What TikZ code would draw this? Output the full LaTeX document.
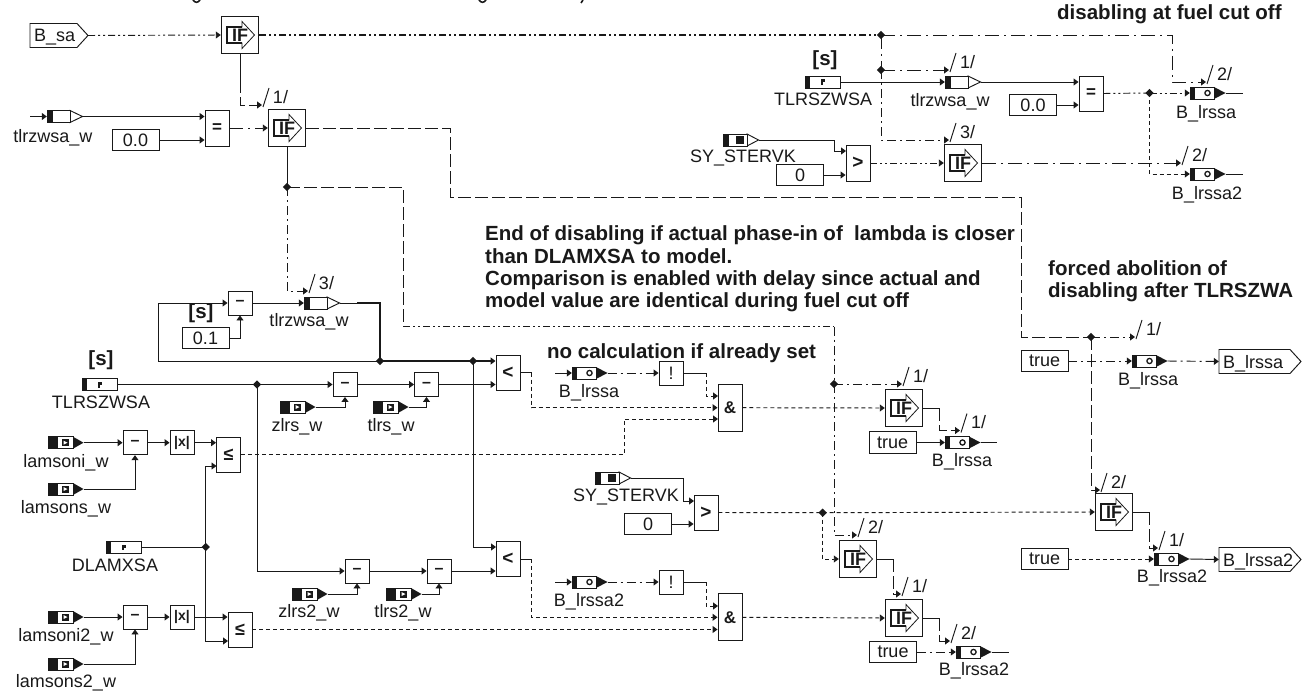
\documentclass[tikz,border=0pt]{standalone}
\usepackage{fontspec}
\setmainfont{Liberation Sans}
\usetikzlibrary{arrows.meta,shapes.geometric}
\definecolor{ink}{gray}{0.1}
\newcommand{\fsz}[1]{\fontsize{#1}{#1}\selectfont}
\tikzset{
  base/.style={line width=0.95pt,draw=ink,line cap=butt,line join=miter},
  fnbox/.style={base,fill=white,rectangle,inner sep=0pt,text=ink},
  valbox/.style={fnbox,minimum width=47pt,minimum height=21.5pt,font=\fsz{18}},
  anchorbox/.style={rectangle,inner sep=0pt,draw=none},
  lbl/.style={anchor=base,inner sep=0pt,text=ink,font=\fsz{18}},
  note/.style={anchor=base west,inner sep=0pt,text=ink,font=\bfseries\fsz{20.5}},
  unit/.style={anchor=center,inner sep=0pt,text=ink,font=\bfseries\fsz{20.5}},
  iftxt/.style={anchor=center,inner sep=0pt,text=ink,font=\bfseries\fsz{18}},
  junct/.style={diamond,fill=ink,draw=none,inner sep=0pt,minimum width=8.5pt,minimum height=8.5pt},
  wire/.style={base},
  arr/.style={-{Triangle[length=5pt,width=7pt]}},
  solidw/.style={wire},
  thickw/.style={wire,line width=1.8pt},
  dd/.style={wire,dash pattern=on 7pt off 3pt on 2pt off 3pt on 2pt off 3pt},
  da/.style={wire,dash pattern=on 14pt off 5pt on 2pt off 5pt},
  dl/.style={wire,dash pattern=on 13pt off 4pt},
  dm/.style={wire,dash pattern=on 4pt off 3pt},
  dx/.style={wire,dash pattern=on 9pt off 4pt on 2pt off 4pt},
}
\newcommand{\fnb}[6]{\node[fnbox,minimum width=#4pt,minimum height=#5pt] (#1) at (#2,#3) {#6};}
\newcommand{\minusb}[3]{\fnb{#1}{#2}{#3}{24}{24}{\bfseries\fsz{16}–}}
\newcommand{\absb}[3]{\fnb{#1}{#2}{#3}{24}{24}{\bfseries\fsz{14}|x|}}
\newcommand{\ifblk}[3]{%
  \node[fnbox,minimum width=37.5pt,minimum height=37.5pt] (#1) at (#2,#3) {};
  \begin{scope}[shift={(#2,#3)}]
    \draw[base,line width=0.8pt] (-13,-8)--(2,-8)--(2,-13.5)--(14.5,0)--(2,13.5)--(2,8)--(-13,8)--cycle;
    \draw[base,line width=1.4pt] (2,8)--(-13,8)--(-13,-8)--(2,-8);
  \end{scope}
  \node[iftxt] (#1-t) at (#2,#3) {IF};}
\newcommand{\varcore}[3]{\node[anchorbox,minimum width=35.5pt,minimum height=12.5pt] (#1) at (#2+17.75,#3) {};}
\newcommand{\varW}[3]{\varcore{#1}{#2}{#3}%
  \draw[base,fill=white] (#2+23,#3-6)--(#2+35.5,#3)--(#2+23,#3+6)--cycle;
  \draw[base,fill=white] (#2,#3-6) rectangle (#2+23,#3+6);
  \fill[ink] (#2,#3-6) rectangle (#2+5.5,#3+6);}
\newcommand{\varR}[3]{\varcore{#1}{#2}{#3}%
  \fill[ink] (#2+25,#3-6)--(#2+35.5,#3)--(#2+25,#3+6)--cycle;
  \draw[base,fill=white] (#2,#3-6) rectangle (#2+25,#3+6);
  \fill[ink] (#2,#3-6) rectangle (#2+10,#3+6);
  \fill[ink] (#2+14,#3-3.5) rectangle (#2+21,#3+3.5);
  \fill[white] (#2+15.5,#3-2)--(#2+19.5,#3)--(#2+15.5,#3+2)--cycle;}
\newcommand{\varL}[3]{\varcore{#1}{#2}{#3}%
  \fill[ink] (#2+24,#3-6)--(#2+35.5,#3)--(#2+24,#3+6)--cycle;
  \draw[base,fill=white] (#2,#3-6) rectangle (#2+24,#3+6);
  \fill[ink] (#2,#3-6) rectangle (#2+5,#3+6);
  \draw[ink,line width=1.3pt] (#2+17.5,#3) circle (2.6pt);}
\newcommand{\varP}[3]{\varcore{#1}{#2}{#3}%
  \draw[base,fill=white] (#2,#3-6) rectangle (#2+35.5,#3+6);
  \fill[ink] (#2,#3-6) rectangle (#2+5,#3+6);
  \fill[ink] (#2+16,#3-2.5) rectangle (#2+20,#3+0.5);
  \fill[ink] (#2+16,#3-2.5) rectangle (#2+17.6,#3+3);}
\newcommand{\varS}[3]{\varcore{#1}{#2}{#3}%
  \draw[base,fill=white] (#2+24,#3-6)--(#2+35.5,#3)--(#2+24,#3+6)--cycle;
  \draw[base,fill=white] (#2,#3-6) rectangle (#2+24,#3+6);
  \fill[ink] (#2,#3-6) rectangle (#2+6,#3+6);
  \fill[ink] (#2+13,#3-4) rectangle (#2+21,#3+4);}
\newcommand{\lab}[4]{\node[lbl] (#1) at (#2,#3+6.5) {#4};}
\newcommand{\tagat}[4]{%
  \coordinate (#1) at (#2,#3);
  \draw[base] (#2+1,#3+2)--(#2+7,#3-17);
  \node[anchor=center,inner sep=0pt,text=ink,font=\fsz{18}] (#1-t) at (#2+18.5,#3-8) {#4};}
\newcommand{\portblk}[6]{%
  \draw[base,fill=white] (#2,#4)--(#3-11,#4)--(#3,#4/2+#5/2)--(#3-11,#5)--(#2,#5)--cycle;
  \node[anchorbox,minimum width=#3pt-#2pt,minimum height=#5pt-#4pt] (#1) at (#2/2+#3/2,#4/2+#5/2) {};
  \node[anchor=base west,inner sep=0pt,text=ink,font=\fsz{18}] (#1-t) at (#2+4,#4/2+#5/2+6.5) {#6};}
\begin{document}
\begin{tikzpicture}[x=1pt,y=-1pt]
\useasboundingbox (0,0) rectangle (1307,693);
\begin{scope}
\clip (0,0) rectangle (1307,693);
\draw[ink,line width=1.6pt] (193,0) .. controls (195,3) and (198,3) .. (200,0);
\draw[ink,line width=1.6pt] (479,0) .. controls (481,3) and (484,3) .. (486,0);
\draw[ink,line width=1.6pt] (583,0) -- (581,3);
\end{scope}

\node[note] (n1) at (1057,20) {disabling at fuel cut off};
\node[note] (n2a) at (485,240.5) {End of disabling if actual phase-in of\ \ lambda is closer};
\node[note] (n2b) at (485,263) {than DLAMXSA to model.};
\node[note] (n2c) at (485,285.5) {Comparison is enabled with delay since actual and};
\node[note] (n2d) at (485,307.5) {model value are identical during fuel cut off};
\node[note] (n3) at (547,358) {no calculation if already set};
\node[note] (n4a) at (1048,275) {forced abolition of};
\node[note] (n4b) at (1048,297) {disabling after TLRSZWA};
\node[unit] (u1) at (825,60) {[s]};
\node[unit] (u2) at (201,313) {[s]};
\node[unit] (u3) at (101,360) {[s]};

\portblk{bsa}{30}{88}{23.5}{47.5}{B\_sa}
\portblk{ob1}{1219}{1301}{349.5}{373.5}{B\_lrssa}
\portblk{ob2}{1219}{1301}{547.5}{571.5}{B\_lrssa2}

\ifblk{if1}{240}{35}
\ifblk{if2}{287}{128}
\ifblk{if3}{963}{163}
\ifblk{if4}{904}{408}
\ifblk{if5}{858}{559}
\ifblk{if6}{904}{618}
\ifblk{if7}{1114}{512}

\fnb{eq1}{217}{128}{24}{36}{\bfseries\fsz{17}=}
\fnb{eq2}{1091}{93.5}{24}{35}{\bfseries\fsz{17}=}
\fnb{gt1}{858}{163}{24}{36}{\bfseries\fsz{19}>}
\fnb{gt2}{706}{512.5}{24}{35}{\bfseries\fsz{19}>}
\fnb{lt1}{508}{372.5}{24}{35}{\bfseries\fsz{19}<}
\fnb{lt2}{508}{559}{24}{35}{\bfseries\fsz{19}<}
\fnb{le1}{228.5}{454.5}{24}{35}{\bfseries\fsz{18}≤}
\fnb{le2}{240}{629.5}{24}{35}{\bfseries\fsz{18}≤}
\minusb{m1}{240}{303}
\minusb{m2}{345}{384.5}
\minusb{m3}{426.5}{384.5}
\minusb{m4}{357}{571}
\minusb{m5}{439}{571}
\minusb{m6}{135}{442.7}
\minusb{m7}{135}{617}
\absb{a1}{182}{442.7}
\absb{a2}{182}{617}
\fnb{nt1}{671}{373}{24}{24}{\fsz{18}!}
\fnb{nt2}{671}{582}{24}{24}{\fsz{18}!}
\fnb{and1}{730}{407.7}{24}{47}{\bfseries\fsz{17}\&}
\fnb{and2}{730}{617.3}{24}{47}{\bfseries\fsz{17}\&}

\node[valbox] (v00a) at (135.5,140) {0.0};
\node[valbox] (v00b) at (1033,105) {0.0};
\node[valbox] (v0a) at (800,175) {0};
\node[valbox] (v0b) at (648,524) {0};
\node[valbox] (v01) at (205.5,338) {0.1};
\node[valbox] (t1) at (892.7,442.5) {true};
\node[valbox] (t2) at (893,652) {true};
\node[valbox] (t3) at (1044.5,361) {true};
\node[valbox] (t4) at (1044.5,559) {true};

\varW{vtl1}{47}{116.5}   \lab{ltl1}{53}{135.5}{tlrzwsa\_w}
\varW{vtl2}{945}{82}     \lab{ltl2}{950}{100}{tlrzwsa\_w}
\varW{vtl3}{304}{303}    \lab{ltl3}{309}{320}{tlrzwsa\_w}
\varP{pt1}{805}{82}      \lab{lpt1}{823}{99}{TLRSZWSA}
\varP{pt2}{82}{384.5}    \lab{lpt2}{101}{401.5}{TLRSZWSA}
\varP{pd}{106}{547}      \lab{lpd}{115}{565}{DLAMXSA}
\varS{sy1}{723}{140}     \lab{lsy1}{743}{156}{SY\_STERVK}
\varS{sy2}{595}{478}     \lab{lsy2}{626}{495}{SY\_STERVK}
\varL{b1}{1190}{93}      \lab{lb1}{1206}{112}{B\_lrssa}
\varL{b2}{1190}{174}     \lab{lb2}{1207}{193}{B\_lrssa2}
\varL{b3}{572}{373}      \lab{lb3}{589}{390.5}{B\_lrssa}
\varL{b4}{572}{582}      \lab{lb4}{589}{600}{B\_lrssa2}
\varL{b5}{945}{442.5}    \lab{lb5}{962}{460}{B\_lrssa}
\varL{b6}{956}{652}      \lab{lb6}{974}{669}{B\_lrssa2}
\varL{b7}{1132}{361}     \lab{lb7}{1148}{379}{B\_lrssa}
\varL{b8}{1154}{559}     \lab{lb8}{1172}{576}{B\_lrssa2}
\varR{zl1}{280}{407}     \lab{lzl1}{297}{425}{zlrs\_w}
\varR{tl1}{373}{407}     \lab{ltf1}{391}{425}{tlrs\_w}
\varR{zl2}{292}{594}     \lab{lzl2}{309}{610.5}{zlrs2\_w}
\varR{tl2}{386}{594}     \lab{ltf2}{403}{610.5}{tlrs2\_w}
\varR{ls1}{48}{442.7}    \lab{lls1}{66}{460.5}{lamsoni\_w}
\varR{ls2}{48}{489}      \lab{lls2}{66}{507}{lamsons\_w}
\varR{ls3}{48}{617}      \lab{lls3}{66}{635}{lamsoni2\_w}
\varR{ls4}{48}{664}      \lab{lls4}{66}{681}{lamsons2\_w}

\node[junct] (j1) at (881,35) {};
\node[junct] (j2) at (881,70) {};
\node[junct] (j3) at (1149.5,93) {};
\node[junct] (j4) at (380,361) {};
\node[junct] (j5) at (473,361) {};
\node[junct] (j6) at (287,187) {};
\node[junct] (j7) at (834,384) {};
\node[junct] (j8) at (257,384.5) {};
\node[junct] (j9) at (205.7,547) {};
\node[junct] (j10) at (822.7,512.7) {};
\node[junct] (j11) at (1091,337) {};

\tagat{g1}{262}{105}{1/}
\tagat{g2}{949}{70}{1/}
\tagat{g3}{949}{140}{3/}
\tagat{g4}{1206}{82}{2/}
\tagat{g5}{1181}{163}{2/}
\tagat{g6}{308}{291}{3/}
\tagat{g7}{902}{384}{1/}
\tagat{g8}{857}{535}{2/}
\tagat{g9}{960}{430.5}{1/}
\tagat{g10}{901}{594}{1/}
\tagat{g11}{950}{641}{2/}
\tagat{g12}{1135}{337}{1/}
\tagat{g13}{1100}{490}{2/}
\tagat{g14}{1158}{548}{1/}

\coordinate (s1) at (30,116.5);
\coordinate (s2) at (555,373);
\coordinate (s3) at (555,582);
\coordinate (e1) at (1243,93);
\coordinate (e2) at (1243,174);
\coordinate (e3) at (997,442.5);
\coordinate (e4) at (1009,652);
\coordinate (k1) at (240,80);
\coordinate (k2) at (939,408);
\coordinate (k3) at (939,618);
\coordinate (k4) at (893,559);
\coordinate (k5) at (1149,512);
\coordinate (k6) at (531.7,372.5);
\coordinate (k7) at (531.7,559);
\coordinate (k8) at (706,373);
\coordinate (k9) at (706,582);

\draw[dd,arr] (bsa.east) -- (if1.west);
\draw[dd,line width=1.4pt] (if1.east) -- (j1.center);
\draw[da,arr] (j1.center) -- (1172,35) -- (1172,82) -- (g4);
\draw[da] (j1.center) -- (j2.center);
\draw[da,arr] (j2.center) -- (g2);
\draw[dx,arr] (j2.center) -- (881,140) -- (g3);
\draw[solidw] (if1.south) -- (k1);
\draw[dl,arr] (k1) -- (240,105) -- (g1);
\draw[solidw,arr] (s1) -- (vtl1.west);
\draw[solidw,arr] (vtl1.east) -- (vtl1.east -| eq1.west);
\draw[solidw,arr] (v00a.east) -- (v00a.east -| eq1.west);
\draw[da,arr] (eq1.east) -- (if2.west);
\draw[dl] (if2.east) -- (450,128) -- (450,197) -- (1021,197) -- (1021,337) -- (j11.center);
\draw[solidw] (if2.south) -- (j6.center);
\draw[dx,arr] (j6.center) -- (287,291) -- (g6);
\draw[dl] (j6.center) -- (403,187) -- (403,326.5);
\draw[dd] (403,326.5) -- (834,326.5);
\draw[dx] (834,326.5) -- (j7.center);
\draw[dx,arr] (j7.center) -- (834,535) -- (g8);
\draw[dx,arr] (j7.center) -- (g7);

\draw[solidw,arr] (pt1.east) -- (vtl2.west);
\draw[solidw,arr] (vtl2.east) -- (vtl2.east -| eq2.west);
\draw[solidw,arr] (v00b.east) -- (v00b.east -| eq2.west);
\draw[dd] (eq2.east) -- (j3.center);
\draw[dd,arr] (j3.center) -- (b1.west);
\draw[dm,arr] (j3.center) -- (1149.5,174) -- (b2.west);
\draw[solidw] (b1.east) -- (e1);
\draw[solidw] (b2.east) -- (e2);
\draw[solidw,arr] (sy1.east) -- (834,140) -- (834,151) -- (846,151);
\draw[solidw,arr] (v0a.east) -- (v0a.east -| gt1.west);
\draw[dd,arr] (gt1.east) -- (if3.west);
\draw[da,arr] (if3.east) -- (g5);

\draw[solidw,arr] (158,361) -- (158,303) -- (m1.west);
\draw[solidw] (158,361) -- (j4.center);
\draw[solidw,arr] (m1.east) -- (vtl3.west);
\draw[solidw,arr] (v01.east) -- (240,338) -- (m1.south);
\draw[solidw] (vtl3.east) -- (357,303);
\draw[thickw] (357,303) -- (380,303) -- (j4.center);
\draw[thickw] (j4.center) -- (j5.center);
\draw[thickw,arr] (j5.center) -- (j5.center -| lt1.west);
\draw[solidw,arr] (j5.center) -- (473,547) -- (496,547);

\draw[solidw] (pt2.east) -- (j8.center);
\draw[solidw,arr] (j8.center) -- (m2.west);
\draw[solidw,arr] (m2.east) -- (m3.west);
\draw[solidw,arr] (m3.east) -- (m3.east -| lt1.west);
\draw[solidw,arr] (j8.center) -- (257,571) -- (m4.west);
\draw[solidw,arr] (m4.east) -- (m5.west);
\draw[solidw,arr] (m5.east) -- (m5.east -| lt2.west);
\draw[solidw,arr] (zl1.east) -| (m2.south);
\draw[solidw,arr] (tl1.east) -| (m3.south);
\draw[solidw,arr] (zl2.east) -| (m4.south);
\draw[solidw,arr] (tl2.east) -| (m5.south);

\draw[solidw,arr] (ls1.east) -- (m6.west);
\draw[solidw,arr] (ls2.east) -| (m6.south);
\draw[solidw,arr] (m6.east) -- (a1.west);
\draw[solidw,arr] (a1.east) -- (a1.east -| le1.west);
\draw[solidw,arr] (ls3.east) -- (m7.west);
\draw[solidw,arr] (ls4.east) -| (m7.south);
\draw[solidw,arr] (m7.east) -- (a2.west);
\draw[solidw,arr] (a2.east) -- (a2.east -| le2.west);
\draw[solidw] (pd.east) -- (j9.center);
\draw[solidw,arr] (j9.center) -- (205.7,466) -- (216.5,466);
\draw[solidw,arr] (j9.center) -- (205.7,641) -- (228,641);

\draw[solidw,arr] (s2) -- (b3.west);
\draw[dx,arr] (b3.east) -- (nt1.west);
\draw[solidw] (nt1.east) -- (k8);
\draw[dm,arr] (k8) -- (706,396) -- (718,396);
\draw[solidw] (lt1.east) -- (k6);
\draw[dm,arr] (k6) -- (531.7,407.7) -- (and1.west);
\draw[dm,arr] (le1.east) -- (624,454.5) -- (624,419) -- (718,419);
\draw[dm,arr] (and1.east) -- (if4.west);
\draw[solidw] (if4.east) -- (k2);
\draw[dl,arr] (k2) -- (939,430.5) -- (g9);
\draw[solidw,arr] (t1.east) -- (b5.west);
\draw[solidw] (b5.east) -- (e3);

\draw[solidw,arr] (s3) -- (b4.west);
\draw[dx,arr] (b4.east) -- (nt2.west);
\draw[solidw] (nt2.east) -- (k9);
\draw[dm,arr] (k9) -- (706,606) -- (718,606);
\draw[solidw] (lt2.east) -- (k7);
\draw[dm,arr] (k7) -- (531.7,617.3) -- (and2.west);
\draw[dm,arr] (le2.east) -- (le2.east -| and2.west);
\draw[dm,arr] (and2.east) -- (if6.west);
\draw[solidw] (if6.east) -- (k3);
\draw[dl,arr] (k3) -- (939,641) -- (g11);
\draw[dx,arr] (t2.east) -- (b6.west);
\draw[solidw] (b6.east) -- (e4);

\draw[solidw,arr] (sy2.east) -- (683,478) -- (683,501) -- (694,501);
\draw[solidw,arr] (v0b.east) -- (v0b.east -| gt2.west);
\draw[dm] (gt2.east) -- (j10.center);
\draw[dm,arr] (j10.center) -- (if7.west);
\draw[dm,arr] (j10.center) -- (822.7,559) -- (if5.west);
\draw[solidw] (if5.east) -- (k4);
\draw[dl,arr] (k4) -- (893,594) -- (g10);

\draw[dx,arr] (j11.center) -- (g12);
\draw[dl,arr] (j11.center) -- (1091,490) -- (g13);
\draw[dx,arr] (t3.east) -- (b7.west);
\draw[dx,arr] (b7.east) -- (ob1.west);
\draw[solidw] (if7.east) -- (k5);
\draw[dl,arr] (k5) -- (1149,548) -- (g14);
\draw[dm,arr] (t4.east) -- (b8.west);
\draw[solidw,arr] (b8.east) -- (ob2.west);
\end{tikzpicture}
\end{document}
